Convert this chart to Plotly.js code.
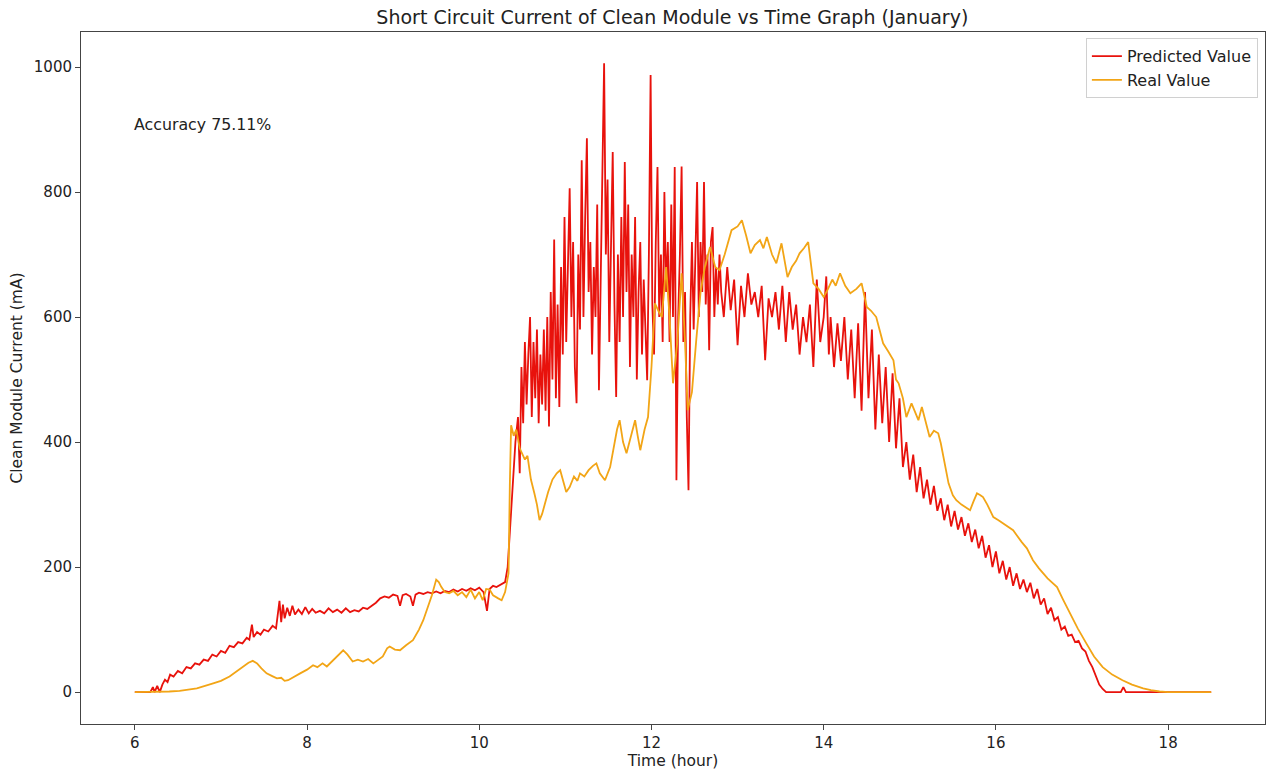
<!DOCTYPE html>
<html>
<head>
<meta charset="utf-8">
<script src="https://cdn.plot.ly/plotly-3.0.1.min.js"></script>
<style>html,body{margin:0;padding:0;background:#fff;}#chart{width:1271px;height:771px;}</style>
</head>
<body>
<div id="chart"></div>
<script>
// Predicted value (time in hours, current in mA)
const predTime = [
6.00,6.10,6.18,6.21,6.23,6.26,6.29,6.32,6.35,6.38,6.41,6.45,6.50,6.55,6.60,6.65,6.70,6.75,6.80,6.85,
6.90,6.95,7.00,7.05,7.10,7.15,7.20,7.25,7.30,7.33,7.36,7.38,7.42,7.46,7.50,7.55,7.60,7.64,7.68,7.70,
7.72,7.74,7.77,7.80,7.83,7.86,7.90,7.94,7.98,8.02,8.06,8.10,8.15,8.20,8.25,8.30,8.35,8.40,8.45,8.50,
8.55,8.60,8.65,8.70,8.75,8.80,8.85,8.90,8.95,9.00,9.05,9.08,9.11,9.15,9.20,9.23,9.26,9.30,9.35,9.40,
9.45,9.50,9.55,9.60,9.65,9.70,9.75,9.80,9.85,9.90,9.95,10.00,10.05,10.09,10.12,10.16,10.20,10.25,10.30,10.33,
10.36,10.39,10.42,10.45,
10.47,10.49,10.51,10.53,10.55,10.57,10.59,10.61,10.63,10.65,10.67,10.69,10.71,10.73,10.75,10.77,10.79,10.81,10.83,10.85,
10.87,10.89,10.91,10.93,10.95,10.97,10.99,11.01,11.03,11.05,11.07,11.09,11.11,11.13,11.15,11.17,11.19,11.21,11.23,11.25,
11.27,11.29,11.31,11.33,11.35,11.37,11.39,11.41,11.43,11.45,11.47,11.49,11.51,11.53,11.55,11.57,11.59,11.61,11.63,11.65,
11.67,11.69,11.71,11.73,11.75,11.77,11.79,11.81,11.83,11.85,11.87,11.89,11.91,11.93,11.95,11.97,11.99,12.01,12.03,12.05,
12.07,12.09,12.11,12.13,12.15,12.17,12.19,12.21,12.23,12.25,12.27,12.29,12.31,12.33,12.35,12.37,12.39,12.41,12.43,12.45,
12.47,12.49,12.51,12.53,12.55,12.57,12.59,12.61,12.63,12.65,12.67,12.69,12.71,12.73,12.75,12.77,12.79,12.81,
12.84,12.88,12.92,12.96,13.00,13.04,13.08,13.12,13.16,13.20,13.24,13.28,13.32,13.36,13.40,13.44,13.48,13.52,13.56,13.60,
13.64,13.68,13.72,13.76,13.80,13.84,13.88,13.92,13.96,14.00,14.03,14.06,14.08,14.12,14.16,14.20,14.24,14.28,14.32,14.36,
14.40,14.44,14.48,14.52,14.56,14.60,14.64,14.68,14.72,14.76,14.80,14.84,14.88,14.92,14.96,15.00,15.04,15.08,15.12,15.16,
15.20,15.24,15.28,15.32,15.36,15.40,15.44,15.48,15.52,15.56,15.60,15.64,15.68,15.72,15.76,15.80,15.84,15.88,15.92,15.96,
16.00,16.04,16.08,16.12,16.16,16.20,16.24,16.28,16.32,16.36,16.40,16.44,16.48,16.52,16.56,16.60,16.64,16.68,16.72,16.76,
16.80,16.84,16.88,16.92,16.96,17.00,17.04,17.08,17.12,17.16,17.20,17.24,17.28,17.45,17.48,17.51,18.50
];
const predValue = [
0,0,0,8,0,10,0,12,20,16,28,25,34,30,40,38,46,44,52,50,
60,57,66,63,74,72,80,78,87,84,108,88,96,92,100,97,106,102,146,112,
140,118,135,122,138,124,132,125,136,126,133,127,130,126,134,128,132,127,134,128,
131,129,135,133,138,143,150,153,151,156,154,138,155,157,153,138,156,159,157,160,
158,161,158,162,160,164,161,165,162,166,163,167,160,130,165,170,168,172,176,200,
270,340,400,440,
350,520,430,560,460,540,600,440,560,470,580,430,540,460,580,450,600,425,640,500,
724,470,620,456,680,540,760,560,700,806,600,720,520,462,700,580,851,600,760,886,
640,720,540,680,600,780,483,640,800,1006,700,820,560,700,864,620,472,700,560,760,
600,848,640,780,520,700,600,760,500,640,720,540,660,580,499,700,987,620,540,720,
840,600,700,560,800,640,720,560,780,600,840,339,600,700,841,560,640,440,323,600,
720,580,680,816,600,720,640,816,620,700,547,720,744,600,680,620,700,640,
600,680,611,660,555,650,600,670,620,640,600,650,531,630,600,640,580,650,560,640,
580,620,540,600,560,620,520,660,560,600,665,540,600,520,590,530,600,500,580,470,
590,450,640,470,580,420,540,430,520,400,510,390,470,360,400,340,380,320,360,310,
340,300,330,290,310,275,300,265,290,260,280,250,270,240,260,230,250,215,235,200,
225,190,210,180,200,170,190,165,180,160,175,150,165,140,150,125,135,115,120,100,
105,90,92,80,82,70,65,50,40,25,12,5,0,0,8,0,0
];

// Real value (time in hours, current in mA)
const realTime = [
6.00,6.20,6.40,6.52,6.72,6.91,7.00,7.10,7.20,7.26,7.32,7.37,7.42,7.47,7.53,7.59,7.65,7.70,7.74,7.78,
7.85,7.92,8.00,8.07,8.12,8.18,8.23,8.30,8.36,8.42,8.47,8.53,8.59,8.65,8.71,8.77,8.83,8.88,8.93,8.96,
9.02,9.08,9.15,9.23,9.30,9.35,9.40,9.45,9.50,9.53,9.56,9.60,9.65,9.70,9.75,9.80,9.85,9.90,9.95,10.00,
10.04,10.08,10.12,10.16,10.22,10.26,10.30,10.34,10.355,10.37,10.40,10.43,10.47,10.50,10.53,10.56,10.60,10.64,10.67,10.70,
10.73,10.76,10.80,10.85,10.90,10.94,10.98,11.01,11.05,11.10,11.14,11.17,11.22,11.27,11.32,11.36,11.40,11.46,11.52,11.57,
11.60,11.63,11.67,11.71,11.76,11.81,11.84,11.87,11.92,11.96,12.00,12.04,12.08,12.12,12.17,12.21,12.25,12.30,12.35,12.39,
12.42,12.47,12.52,12.57,12.62,12.68,12.74,12.79,12.85,12.93,13.00,13.05,13.10,13.15,13.20,13.26,13.30,13.34,13.40,13.45,
13.51,13.55,13.58,13.63,13.68,13.72,13.77,13.82,13.85,13.88,13.94,14.00,14.05,14.10,14.14,14.19,14.25,14.31,14.38,14.44,
14.50,14.55,14.61,14.65,14.69,14.75,14.81,14.84,14.87,14.92,14.96,15.02,15.07,15.10,15.14,15.19,15.23,15.28,15.33,15.36,
15.40,15.45,15.50,15.54,15.60,15.65,15.70,15.74,15.78,15.82,15.85,15.90,15.97,16.03,16.10,16.20,16.30,16.36,16.43,16.50,
16.60,16.71,16.78,16.86,16.95,17.05,17.14,17.24,17.35,17.47,17.58,17.71,17.80,17.90,18.00,18.50
];
const realValue = [
0,0,1,2,6,14,18,25,35,41,47,50,46,38,30,26,22,23,18,19,
25,30,36,43,40,46,41,50,58,67,60,49,52,49,53,46,52,57,70,73,
68,67,75,83,100,115,135,155,180,176,168,160,158,162,155,160,152,164,150,160,
147,165,164,155,150,147,160,190,330,427,410,420,390,382,372,378,340,318,300,275,
285,300,320,340,350,355,335,320,328,345,338,350,345,355,362,366,350,339,360,400,
420,435,400,382,410,435,410,387,420,440,520,622,610,600,680,600,494,560,670,560,
451,480,563,640,680,712,680,675,700,739,745,755,730,702,715,723,710,728,700,686,
718,690,664,680,690,702,710,720,690,654,645,632,645,660,650,670,650,638,645,654,
616,610,600,580,558,545,531,500,494,470,440,462,445,435,456,430,408,418,414,398,
370,334,315,307,300,295,291,305,318,315,312,300,280,275,268,259,240,230,211,198,
182,168,148,126,102,78,57,40,28,19,12,6,3,1,0,0
];

const xTicks = [6, 8, 10, 12, 14, 16, 18];
const yTicks = [0, 200, 400, 600, 800, 1000];

const FONT = 'DejaVu Sans, sans-serif';

const traces = [
  {x: predTime, y: predValue, type: 'scatter', mode: 'lines', name: 'Predicted Value',
   line: {color: '#e8120c', width: 1.8}},
  {x: realTime, y: realValue, type: 'scatter', mode: 'lines', name: 'Real Value',
   line: {color: '#f2a516', width: 1.8}}
];

const layout = {
  width: 1271, height: 771,
  paper_bgcolor: '#fff', plot_bgcolor: '#fff',
  margin: {l: 81, r: 6, t: 32, b: 47},
  font: {family: FONT, color: '#222', size: 15},
  title: {text: 'Short Circuit Current of Clean Module vs Time Graph (January)',
          font: {family: FONT, size: 19, color: '#222'}, x: 0.529, xanchor: 'center', y: 0.977, yanchor: 'middle'},
  showlegend: true,
  legend: {x: 0.994, y: 0.991, xanchor: 'right', yanchor: 'top', bgcolor: '#fff',
           bordercolor: '#d0d0d0', borderwidth: 1, font: {family: FONT, size: 16, color: '#222'},
           tracegroupgap: 0},
  xaxis: {range: [5.375, 19.125], tickvals: xTicks, ticktext: xTicks.map(String),
          showgrid: false, zeroline: false, showline: true, linecolor: '#444', linewidth: 1, mirror: true,
          ticks: 'outside', ticklen: 5, tickcolor: '#444', tickfont: {family: FONT, size: 15, color: '#222'},
          title: {text: 'Time (hour)', font: {family: FONT, size: 15.5, color: '#222'}, standoff: 4}},
  yaxis: {range: [-51, 1056], tickvals: yTicks, ticktext: yTicks.map(String),
          showgrid: false, zeroline: false, showline: true, linecolor: '#444', linewidth: 1, mirror: true,
          ticks: 'outside', ticklen: 5, tickcolor: '#444', tickfont: {family: FONT, size: 15, color: '#222'},
          title: {text: 'Clean Module Current (mA)', font: {family: FONT, size: 15.5, color: '#222'}, standoff: 7}},
  annotations: [{x: 6, y: 908, xref: 'x', yref: 'y', text: 'Accuracy 75.11%', showarrow: false,
                 xanchor: 'left', yanchor: 'middle', xshift: -3, font: {family: FONT, size: 15.8, color: '#222'}}]
};

Plotly.newPlot('chart', traces, layout, {displayModeBar: false, staticPlot: true});
</script>
</body>
</html>
